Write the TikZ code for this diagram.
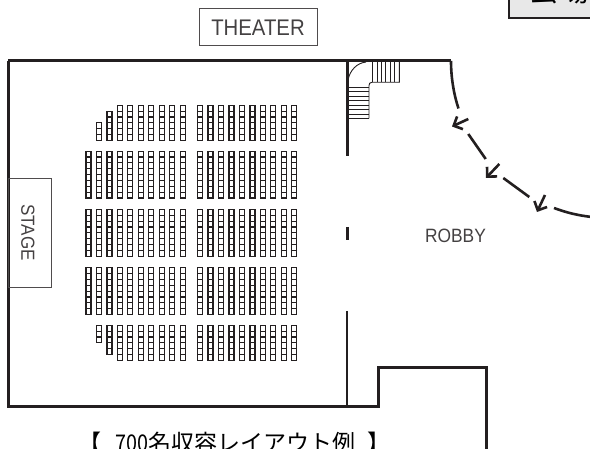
\documentclass[tikz,border=0pt]{standalone}
\usepackage{fontspec}
\usepackage{graphicx}
\setmainfont{Liberation Sans}
\newfontfamily\jpfont{Noto Sans CJK JP}
\newfontfamily\labelfont[FakeStretch=0.9]{Liberation Sans}
\usetikzlibrary{arrows.meta}
\definecolor{ink}{HTML}{231F20}
\tikzset{
wall/.style={draw=ink,line width=3pt,line join=miter},
thin wall/.style={draw=ink,line width=2.4pt},
swing/.style={draw=ink,line width=2.6pt},
way/.style={draw=ink,line width=2.6pt,-{Straight Barb[length=7pt,width=14pt,line width=2.6pt]}},
tread/.style={draw=ink,line width=0.9pt},
seat/.style={draw=ink,line width=1.15pt},
label box/.style={draw=ink!80,line width=1pt},
room text/.style={text=ink!85},
}
\newcommand{\seatcol}[3]{\foreach \r in {1,...,#3}
{\draw[seat] (#1,{#2+(\r-1)*5.85}) rectangle ++(5,5.85);}}
\begin{document}
\begin{tikzpicture}[x=1pt,y=-1pt]
\useasboundingbox (0,0) rectangle (590,449);
\path[label box] (199,9) rectangle (317,46);
\node[room text] (theater) at (258,27.5) {\labelfont\fontsize{22.6}{24}\selectfont THEATER};
\path[draw=ink,fill=gray!18,line width=2pt] (508.5,-5) rectangle (600,18);
\node (kaijo) at (559,-9.5) {\jpfont\fontsize{30}{32}\selectfont 会場};
\path[wall] (8,61) -- (451,61);
\path[wall] (8,61) -- (8,407) -- (378,407) -- (378,367.5) -- (486.5,367.5) -- (486.5,452);
\path[label box] (8,179) rectangle (51.5,288);
\node[rotate=-90,room text] (stage) at (28,232.5) {\labelfont\fontsize{18.9}{20}\selectfont STAGE};
\path[wall] (347,61) -- (347,156);
\path[wall] (347,227) -- (347,240);
\path[thin wall] (347,311) -- (347,407);
\node[room text] (robby) at (455.5,235.5) {\labelfont\fontsize{19.3}{21}\selectfont ROBBY};
\node[anchor=base west,inner sep=0pt] (caption) at (78.5,451.5)
{\jpfont\fontsize{23}{25}\selectfont 【\hspace{13.5pt}\scalebox{0.86}[1]{700}名収容レイアウト例\hspace{12.7pt}】};
\path[swing] (451,61) .. controls (451,78) and (454,95) .. (458.5,108.5);
\path[swing] (468.3,134) -- (485.7,159);
\path[swing] (503.3,178) -- (529.3,197);
\path[swing] (554,208) .. controls (566,212.5) and (578,215.5) .. (592,217);
\draw[way] (468.3,119) -- (452,126.5);
\draw[way] (499.3,164) -- (486,178);
\draw[way] (545,195) -- (537,212);
\path[tread] (348,80) .. controls (350,70) and (357,63) .. (366,62);
\path[tread] (399.3,61) -- (399.3,82.3) -- (372,82.3) .. controls (370,82.3) and (369,83.5) .. (369,85.5) -- (369,118.3);
\foreach \x in {372.7,377,381.4,385.8,390.2,394.7}
{\path[tread] (\x,61) -- (\x,82.3);}
\foreach \y in {87.3,91.7,96,100.5,105,109.5,114,118.3}
{\path[tread] (347,\y) -- (369,\y);}
\foreach \i in {0,...,9}{
\seatcol{86+10.47*\i}{151.2}{8}
\seatcol{86+10.47*\i}{209.4}{8}
\seatcol{86+10.47*\i}{267.7}{8}
\seatcol{197.6+10.47*\i}{151.2}{8}
\seatcol{197.6+10.47*\i}{209.4}{8}
\seatcol{197.6+10.47*\i}{267.7}{8}
\seatcol{197.6+10.47*\i}{105.3}{6}
\seatcol{197.6+10.47*\i}{325.3}{6}
}
\foreach \i in {3,...,9}{
\seatcol{86+10.47*\i}{105.3}{6}
\seatcol{86+10.47*\i}{325.3}{6}
}
\seatcol{96.5}{122.8}{3}
\seatcol{107}{111.2}{5}
\seatcol{96.5}{325.3}{3}
\seatcol{107}{325.3}{5}
\end{tikzpicture}
\end{document}
